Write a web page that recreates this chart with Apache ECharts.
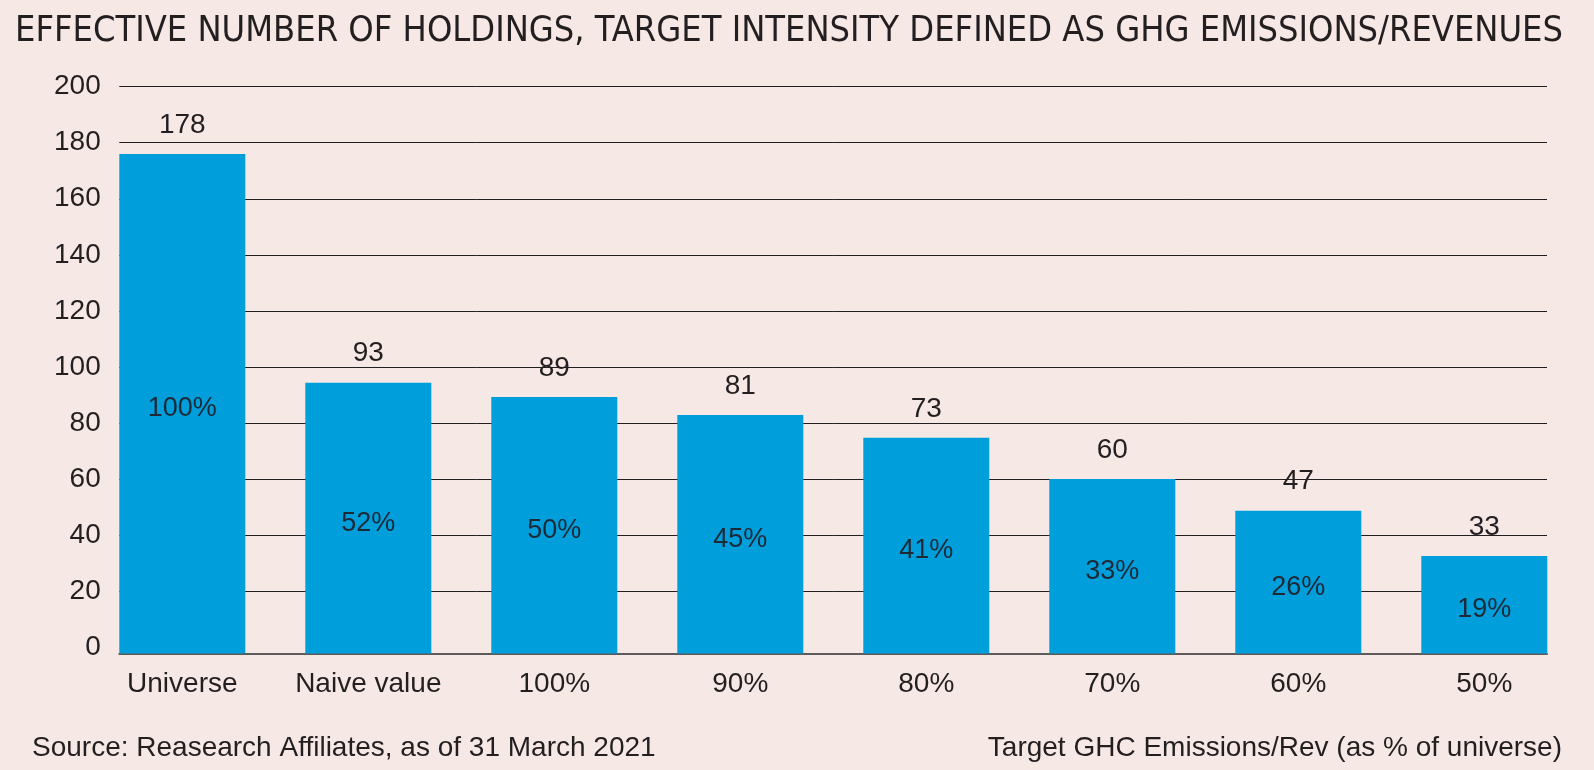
<!DOCTYPE html>
<html>
<head>
<meta charset="utf-8">
<script src="https://cdn.jsdelivr.net/npm/echarts@6/dist/echarts.min.js"></script>
<style>
html,body{margin:0;padding:0;background:#F6E8E5;}
#chart{width:1594px;height:770px;}
</style>
</head>
<body>
<div id="chart"></div>
<script>
// ---- data ----
const categories = ['Universe', 'Naive value', '100%', '90%', '80%', '70%', '60%', '50%'];
const barHeights = [178.4, 96.7, 91.6, 85.2, 77.0, 62.3, 51.0, 34.8];   // bar heights as drawn
const holdingsLabels = ['178', '93', '89', '81', '73', '60', '47', '33']; // printed values
const shareLabels = ['100%', '52%', '50%', '45%', '41%', '33%', '26%', '19%'];
const yTicks = [0, 20, 40, 60, 80, 100, 120, 140, 160, 180, 200];

const titleText = 'EFFECTIVE NUMBER OF HOLDINGS, TARGET INTENSITY DEFINED AS GHG EMISSIONS/REVENUES';
const sourceText = 'Source: Reasearch Affiliates, as of 31 March 2021';
const axisNote = 'Target GHC Emissions/Rev (as % of universe)';

const ink = '#231F20';
const FONT = '"Liberation Sans", Arial, sans-serif';
const NARROW = '"DejaVu Sans Condensed", "DejaVu Sans", sans-serif';

const chart = echarts.init(document.getElementById('chart'), null, {renderer: 'canvas'});
chart.setOption({
  backgroundColor: '#F6E8E5',
  animation: false,
  title: [
    {text: titleText, left: 10, top: 9,
     textStyle: {fontFamily: NARROW, fontSize: 35.9, fontWeight: 'normal', color: ink}},
    {text: sourceText, left: 27, top: 729,
     textStyle: {fontFamily: FONT, fontSize: 28, fontWeight: 'normal', color: ink}},
    {text: axisNote, right: 27, top: 729,
     textStyle: {fontFamily: FONT, fontSize: 28, fontWeight: 'normal', color: ink}}
  ],
  grid: [
    {left: 119.3, right: 47, top: 86.7, bottom: 123, containLabel: false},
    {left: 89.3, right: 16.7, top: 86.7, bottom: 116.5, containLabel: false}
  ],
  xAxis: [
    {gridIndex: 0, type: 'category', data: categories, position: 'bottom', offset: 6.5,
     axisLine: {show: true, onZero: false, lineStyle: {color: '#5E5A5A', width: 2}},
     axisTick: {show: false}, axisLabel: {show: false}, splitLine: {show: false}},
    {gridIndex: 1, type: 'category', data: categories, boundaryGap: true,
     axisLine: {show: false}, axisTick: {show: false},
     axisLabel: {show: true, interval: 0, fontFamily: FONT, fontSize: 28, color: ink, margin: 17}}
  ],
  yAxis: [
    {gridIndex: 0, type: 'value', min: yTicks[0], max: yTicks[yTicks.length - 1], interval: 20,
     axisLine: {show: false}, axisTick: {show: false},
     axisLabel: {fontFamily: FONT, fontSize: 28, color: ink, margin: 18.6},
     splitLine: {show: true, showMinLine: false, lineStyle: {color: ink, width: 1}}},
    {gridIndex: 1, type: 'value', min: 0, max: 202.4, show: false,
     splitLine: {show: false}}
  ],
  series: [
    {type: 'bar', xAxisIndex: 1, yAxisIndex: 1, data: barHeights, barWidth: 126,
     itemStyle: {color: '#009EDB'},
     label: {show: true, position: 'inside', fontFamily: FONT, fontSize: 27, color: '#1C2A38',
       offset: [0, 5],
       formatter: p => shareLabels[p.dataIndex]},
     silent: true},
    {type: 'bar', xAxisIndex: 1, yAxisIndex: 1, data: barHeights, barWidth: 126, barGap: '-100%',
     itemStyle: {color: 'rgba(0,0,0,0)'},
     label: {show: true, position: 'top', distance: 15, fontFamily: FONT, fontSize: 28, color: ink,
       formatter: p => holdingsLabels[p.dataIndex]},
     silent: true}
  ]
});
</script>
</body>
</html>
